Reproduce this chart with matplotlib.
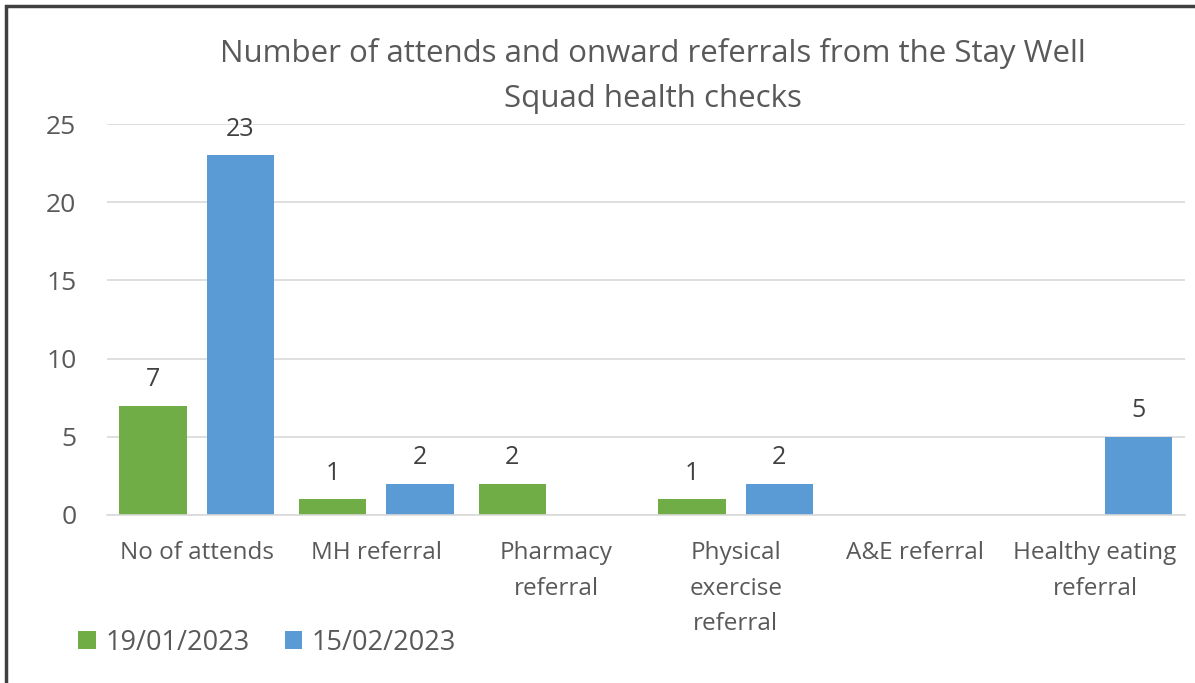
import numpy as np
import matplotlib.pyplot as plt
from matplotlib.patches import Rectangle

plt.rcParams['font.family'] = ['Open Sans', 'DejaVu Sans']

# data
categories = ['No of attends', 'MH referral', 'Pharmacy\nreferral',
              'Physical\nexercise\nreferral', 'A&E referral', 'Healthy eating\nreferral']
series_names = ['19/01/2023', '15/02/2023']
jan_values = [7, 1, 2, 1, 0, 0]
feb_values = [23, 2, 0, 2, 0, 5]
colors = ['#70AD47', '#5B9BD5']

fig = plt.figure(figsize=(11.95, 6.83), dpi=100)
ax = fig.add_axes([0.0895, 0.246, 0.902, 0.5724])

x = np.arange(len(categories))
w = 0.375
offset = 0.243
for vals, name, col, off in zip([jan_values, feb_values], series_names, colors, [-offset, offset]):
    bars = ax.bar(x + off, vals, w, color=col, label=name, zorder=2)
    for b, v in zip(bars, vals):
        if v > 0:
            ax.text(b.get_x() + b.get_width() / 2, v + 0.85, str(v), ha='center', va='bottom',
                    fontsize=18, color='#404040')

ax.set_xlim(-0.5, len(categories) - 0.5)
ax.set_ylim(0, 25)
ax.set_yticks(range(0, 26, 5))
ax.grid(axis='y', color='#D9D9D9', linewidth=1.2, zorder=0)
for s in ['top', 'right', 'left']:
    ax.spines[s].set_visible(False)
ax.spines['bottom'].set_color('#D9D9D9')
ax.spines['bottom'].set_linewidth(1.2)
ax.tick_params(axis='both', length=0, labelcolor='#595959')
ax.tick_params(axis='y', pad=22, labelsize=19)
ax.tick_params(axis='x', pad=19, labelsize=17.5)
ax.set_xticks(x)
ax.set_xticklabels(categories, linespacing=1.63)

fig.text(0.546, 0.945, 'Number of attends and onward referrals from the Stay Well\nSquad health checks',
         ha='center', va='top', fontsize=22.5, color='#595959', linespacing=1.66)

ax.legend(loc='lower left', bbox_to_anchor=(0.045, 0.003), bbox_transform=fig.transFigure,
          ncol=2, frameon=False, fontsize=19.5, handlelength=0.65, handleheight=0.65,
          handletextpad=0.35, columnspacing=1.3, labelcolor='#595959')

# chart border
fig.patches.append(Rectangle((6 / 1195, -0.05), 1.2, 1 - 6 / 683 + 0.05, transform=fig.transFigure,
                             fill=False, edgecolor='#404040', linewidth=2.5))

fig.savefig('out.png', dpi=100)
